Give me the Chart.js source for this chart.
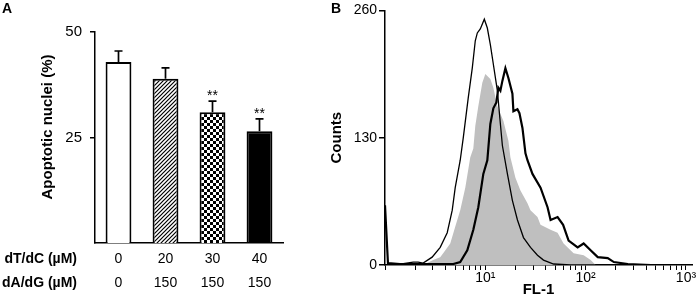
<!DOCTYPE html>
<html>
<head>
<meta charset="utf-8">
<script src="https://cdn.jsdelivr.net/npm/chart.js@4/dist/chart.umd.min.js"></script>
<style>
  body { margin: 0; background: #fff; }
  #wrap { position: relative; width: 700px; height: 299px; font-family: 'Liberation Sans', Arial, sans-serif; color: #000; }
  canvas { position: absolute; top: 0; }
  .txt { position: absolute; font-size: 14px; line-height: 16px; white-space: nowrap; }
  .bold { font-weight: bold; }
</style>
</head>
<body>
<div id="wrap">
  <canvas id="panelA" width="300" height="299" style="left:0"></canvas>
  <canvas id="panelB" width="400" height="299" style="left:300px"></canvas>
  <div class="txt bold" style="left:2px;top:0">A</div>
  <div class="txt bold" style="left:331px;top:0">B</div>
  <div class="txt bold" style="left:0;width:77px;text-align:right;top:250px">dT/dC (µM)</div>
  <div class="txt bold" style="left:0;width:77px;text-align:right;top:274px">dA/dG (µM)</div>
</div>
<script>
// panel A: apoptotic nuclei per treatment
const doseTC = ['0', '20', '30', '40'];
const doseAG = ['0', '150', '150', '150'];
const apoptoticNuclei = [42.9, 38.9, 31.0, 26.5];
const apoptoticErr = [2.6, 2.6, 2.6, 2.9];
const significance = ['', '', '**', '**'];
const yTicksA = [25, 50];

// panel B: FL-1 histograms (x on log scale, counts)
const thinFL = [1.0, 1.41, 1.91, 2.14, 2.40, 2.95, 3.55, 4.17, 4.68, 5.01, 5.62, 6.03, 6.76, 7.41, 7.94, 8.32, 8.91, 9.77, 10.47, 11.22, 12.02, 13.18, 14.13, 14.79, 16.6, 18.6, 20.9, 24.0, 28.2, 33.1, 38.0, 47.9, 70.8, 1000];
const thinCounts = [0, 1, 3, 3, 2, 8, 18, 33, 56, 79, 107, 130, 171, 201, 229, 237, 241, 251, 242, 225, 205, 178, 144, 122, 93, 66, 46, 28, 18, 10, 5, 1, 0, 0];

const thickFL = [1.0, 1.07, 1.41, 2.5, 3.55, 4.79, 5.62, 6.61, 7.59, 8.51, 9.55, 10.47, 11.22, 12.02, 12.88, 13.49, 14.13, 14.79, 15.85, 16.98, 18.62, 19.05, 20.89, 21.88, 23.44, 25.12, 26.3, 29.5, 35.5, 41.7, 44.7, 52.5, 59.6, 67.6, 83.2, 95.5, 112, 132, 166, 191, 263, 447, 1000];
const thickCounts = [61, 2, 1, 1, 1, 1, 3, 15, 36, 59, 93, 107, 144, 160, 166, 181, 178, 188, 201, 191, 175, 157, 159, 155, 140, 114, 107, 93, 79, 59, 46, 49, 41, 25, 18, 22, 15, 8, 7, 3, 1, 0, 0];

const grayFL = [1.0, 2.24, 2.63, 3.02, 3.55, 3.80, 4.47, 5.01, 5.62, 6.31, 7.08, 7.59, 7.94, 8.51, 9.33, 10.0, 11.22, 12.02, 13.18, 15.14, 16.98, 17.78, 19.95, 22.39, 26.30, 28.18, 33.11, 35.48, 44.67, 52.48, 60.26, 75.86, 95.5, 112.2, 125.9, 1000];
const grayCounts = [0, 0, 2, 5, 8, 12, 22, 39, 56, 79, 110, 119, 142, 162, 186, 195, 190, 181, 162, 147, 127, 110, 89, 76, 63, 56, 49, 41, 36, 33, 22, 12, 10, 5, 0, 0];

const xTickLabelsB = { 10: '10¹', 100: '10²', 1000: '10³' };
const yTicksB = [0, 130, 260];

Chart.defaults.font.family = "'Liberation Sans', Arial, sans-serif";
Chart.defaults.color = '#000';

function makeHatch() {
    const c = document.createElement('canvas');
    c.width = c.height = 4;
    const g = c.getContext('2d');
    g.fillStyle = '#fff';
    g.fillRect(0, 0, 4, 4);
    g.strokeStyle = '#000';
    g.lineWidth = 1.2;
    g.beginPath();
    g.moveTo(-1, 5); g.lineTo(5, -1);
    g.moveTo(-1, 1); g.lineTo(1, -1);
    g.moveTo(3, 5); g.lineTo(5, 3);
    g.stroke();
    return g.createPattern(c, 'repeat');
}

function makeChecker() {
    const c = document.createElement('canvas');
    c.width = c.height = 6;
    const g = c.getContext('2d');
    g.fillStyle = '#fff';
    g.fillRect(0, 0, 6, 6);
    g.fillStyle = '#000';
    g.fillRect(0, 0, 3, 3);
    g.fillRect(3, 3, 3, 3);
    return g.createPattern(c, 'repeat');
}

// error bars (upper only), significance marks and y title
const errorBars = {
    id: 'errorBars',
    afterDatasetsDraw(chart) {
        const { ctx } = chart;
        const y = chart.scales.y;
        const meta = chart.getDatasetMeta(0);
        ctx.save();
        ctx.strokeStyle = '#000';
        ctx.lineWidth = 1.7;
        ctx.fillStyle = '#000';
        ctx.font = "14px 'Liberation Sans', Arial, sans-serif";
        ctx.textAlign = 'center';
        meta.data.forEach((bar, i) => {
            const top = y.getPixelForValue(apoptoticNuclei[i] + apoptoticErr[i]);
            ctx.beginPath();
            ctx.moveTo(bar.x, bar.y);
            ctx.lineTo(bar.x, top);
            ctx.moveTo(bar.x - 4, top);
            ctx.lineTo(bar.x + 4, top);
            ctx.stroke();
            if (significance[i]) ctx.fillText(significance[i], bar.x, top - 1);
        });
        ctx.translate(48, 127);
        ctx.rotate(-Math.PI / 2);
        ctx.font = "bold 15px 'Liberation Sans', Arial, sans-serif";
        ctx.textBaseline = 'middle';
        ctx.fillText('Apoptotic nuclei (%)', 0, 0);
        ctx.restore();
    }
};

new Chart(document.getElementById('panelA'), {
    type: 'bar',
    data: {
        labels: doseTC.map((t, i) => [t, doseAG[i]]),
        datasets: [{
            data: apoptoticNuclei,
            backgroundColor: ['#fff', makeHatch(), makeChecker(), '#000'],
            borderColor: '#000',
            borderWidth: 2,
            barPercentage: 0.55,
            categoryPercentage: 1
        }]
    },
    options: {
        responsive: false,
        animation: false,
        layout: { padding: { top: 32, right: 17, left: 0, bottom: 0 } },
        plugins: { legend: { display: false }, tooltip: { enabled: false } },
        scales: {
            x: {
                grid: { display: false },
                border: { color: '#000', width: 1.5 },
                ticks: { color: '#000', font: { size: 14, lineHeight: 1.7 }, padding: -4, maxRotation: 0, autoSkip: false },
                afterFit: s => { s.height = 56; }
            },
            y: {
                min: 0,
                max: 50,
                afterBuildTicks: s => { s.ticks = yTicksA.map(v => ({ value: v })); },
                ticks: { color: '#000', font: { size: 15 }, padding: 8 },
                grid: { drawOnChartArea: false, tickLength: 5, color: '#000', lineWidth: 1.5 },
                border: { color: '#000', width: 1.5 },
                afterFit: s => { s.width = 95; }
            }
        }
    },
    plugins: [errorBars]
});

const toPoints = (xs, ys) => xs.map((x, i) => ({ x, y: ys[i] }));
const minorTicks = [];
[1, 10, 100].forEach(d => { for (let k = 1; k <= 9; k++) minorTicks.push(k * d); });
minorTicks.push(1000);

new Chart(document.getElementById('panelB'), {
    type: 'line',
    data: {
        datasets: [
            { data: toPoints(thickFL, thickCounts), borderColor: '#000', borderWidth: 2.2, pointRadius: 0, tension: 0, fill: false },
            { data: toPoints(thinFL, thinCounts), borderColor: '#000', borderWidth: 1.3, pointRadius: 0, tension: 0, fill: false },
            { data: toPoints(grayFL, grayCounts), borderColor: 'rgba(0,0,0,0)', borderWidth: 0, backgroundColor: '#bfbfbf', pointRadius: 0, tension: 0, fill: 'origin' }
        ]
    },
    options: {
        responsive: false,
        animation: false,
        layout: { padding: { top: 9, right: 8, left: 0, bottom: 0 } },
        plugins: { legend: { display: false }, tooltip: { enabled: false } },
        scales: {
            x: {
                type: 'logarithmic',
                min: 1,
                max: 1148,
                afterBuildTicks: s => { s.ticks = minorTicks.map(v => ({ value: v })); },
                ticks: { color: '#000', font: { size: 14 }, padding: 0, maxRotation: 0, autoSkip: false, callback: v => xTickLabelsB[v] || '' },
                grid: { drawOnChartArea: false, tickLength: 5, color: '#000', lineWidth: 1 },
                border: { color: '#000', width: 1.5 },
                title: { display: true, text: 'FL-1', font: { size: 15, weight: 'bold' }, padding: 0 },
                afterFit: s => { s.height = 34; }
            },
            y: {
                min: 0,
                max: 260,
                afterBuildTicks: s => { s.ticks = yTicksB.map(v => ({ value: v })); },
                ticks: { color: '#000', font: { size: 14 }, padding: 2 },
                grid: { drawOnChartArea: false, tickLength: 6, color: '#000', lineWidth: 1.5 },
                border: { color: '#000', width: 1.5 },
                title: { display: true, text: 'Counts', font: { size: 15, weight: 'bold' }, padding: { top: 28, bottom: 0 } },
                afterFit: s => { s.width = 85; }
            }
        }
    }
});
</script>
</body>
</html>
